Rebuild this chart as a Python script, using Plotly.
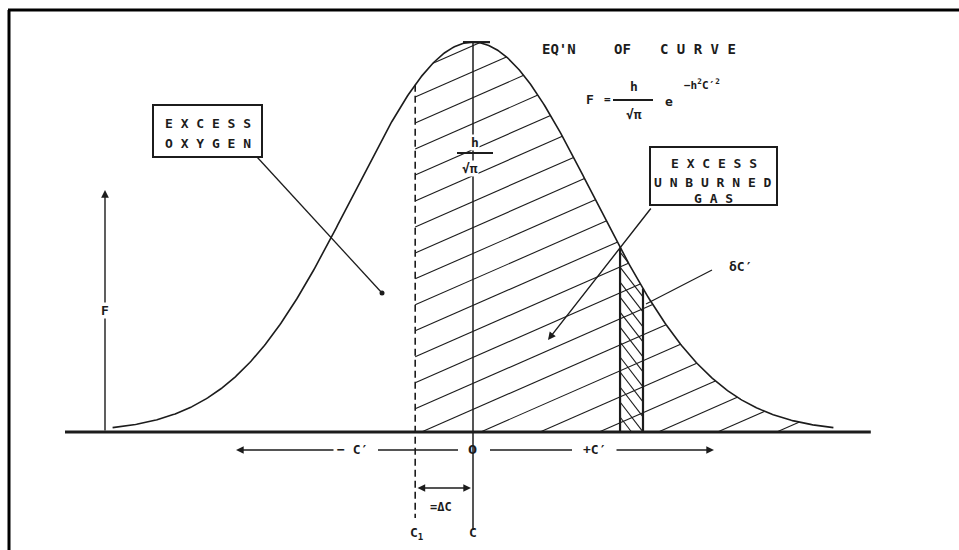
import numpy as np
import plotly.graph_objects as go

# ---- quantities of the error-curve diagram --------------------------------
H = 1.0                      # precision constant h
C1 = -0.34                   # displaced setting C1 = C - ΔC
STRIP = (0.865, 1.0)         # element δC' on the unburned-gas side
CURVE_SPAN = (-2.12, 2.12)   # C' range over which the curve is traced
AXIS_SPAN = (-2.40, 2.34)    # C' range of the base line
HATCH_SLOPE = 0.108          # rise of shading lines (F per unit C')
HATCH_STEP = 0.0376          # spacing of shading lines (F)
CROSS_SLOPE = -0.32          # slope of cross shading inside δC'
CROSS_STEP = 0.0217          # spacing of cross shading inside δC'

# ---- canvas layout --------------------------------------------------------
W, HT = 959, 550
ORIGIN_PX = (473, 432)       # where C'=0, F=0 sits on the canvas
PX_PER_C = 170.0
PX_PER_F = 691.0
INK = "#1c1c1c"
LETTER = "DejaVu Sans Mono"


def at(px, py):
    """Canvas pixel position -> (C', F) data units."""
    return (px - ORIGIN_PX[0]) / PX_PER_C, (ORIGIN_PX[1] - py) / PX_PER_F


def curve(c):
    """F = h/sqrt(pi) * exp(-h^2 C'^2)"""
    return H / np.sqrt(np.pi) * np.exp(-(H * c) ** 2)


def clipped_lines(intercepts, slope, c_ref, c_lo, c_hi):
    """Straight shading lines clipped to the area under the curve."""
    grid = np.linspace(c_lo, c_hi, 4000)
    top = curve(grid)
    xs, ys = [], []
    for b in intercepts:
        line = b + slope * (grid - c_ref)
        idx = np.flatnonzero((line >= 0) & (line <= top))
        if idx.size < 3:
            continue
        for run in np.split(idx, np.flatnonzero(np.diff(idx) > 1) + 1):
            if run.size < 3:
                continue
            xs += [grid[run[0]], grid[run[-1]], None]
            ys += [line[run[0]], line[run[-1]], None]
    return xs, ys


fig = go.Figure()


def line_trace(x, y, width=1.4, dash=None, color=INK):
    fig.add_trace(go.Scatter(x=x, y=y, mode="lines", hoverinfo="skip",
                             line=dict(color=color, width=width, dash=dash)))


# shading of the area beyond C1
hx, hy = clipped_lines(np.arange(0.56, -0.30, -HATCH_STEP), HATCH_SLOPE,
                       C1, C1, 2.05)
line_trace(hx, hy, width=1.1)

# cross shading inside δC'
sx, sy = clipped_lines(np.arange(0.0, 0.34, CROSS_STEP), CROSS_SLOPE,
                       STRIP[0], STRIP[0], STRIP[1])
line_trace(sx, sy, width=1.1)

# sides of δC'
for c in STRIP:
    line_trace([c, c], [0, curve(c)], width=2.2)

# the distribution curve
cc = np.linspace(CURVE_SPAN[0], CURVE_SPAN[1], 600)
line_trace(cc, curve(cc), width=1.6)

# base line (C' axis)
line_trace(list(AXIS_SPAN), [0, 0], width=3)

# C line through the maximum and dashed C1 line
peak = curve(0.0)
line_trace([0, 0], [peak, at(0, 530)[1]], width=1.5)
line_trace([C1, C1], [curve(C1), at(0, 518)[1]], width=1.6, dash="7px,4px")

# cap at the top of the ordinate h/sqrt(pi)
cap_l, cap_r = at(463, 0)[0], at(490, 0)[0]
line_trace([cap_l, cap_r], [peak, peak], width=2.2)

# leader lines
ox0, oy0 = at(257, 157)
ox1, oy1 = at(382, 293)
line_trace([ox0, ox1], [oy0, oy1], width=1.3)
fig.add_trace(go.Scatter(x=[ox1], y=[oy1], mode="markers", hoverinfo="skip",
                         marker=dict(color=INK, size=5)))
dx0, dy0 = at(712, 270)
dx1, dy1 = at(646, 304)
line_trace([dx0, dx1], [dy0, dy1], width=1.2)

# fraction bars
for (l, r, y) in [(613, 653, 100), (457, 493, 153)]:
    a, yy = at(l, y)
    b, _ = at(r, y)
    line_trace([a, b], [yy, yy], width=2.2)

annotations = []


def arrow(tail, head, start=False):
    tx, ty = at(*tail)
    hx_, hy_ = at(*head)
    annotations.append(dict(
        x=hx_, y=hy_, ax=tx, ay=ty, xref="x", yref="y", axref="x", ayref="y",
        text="", showarrow=True, arrowhead=2, arrowsize=1.1, arrowwidth=1.4,
        arrowcolor=INK, arrowside="end+start" if start else "end",
        startarrowhead=2, startarrowsize=1.1))


def label(text, px, py, size=13, bg=None, family=LETTER):
    x, y = at(px, py)
    annotations.append(dict(
        x=x, y=y, xref="x", yref="y", text=text, showarrow=False,
        font=dict(family=family, size=size, color=INK),
        bgcolor=bg, borderpad=0, xanchor="center", yanchor="middle"))


# F ordinate arrow
arrow((105, 432), (105, 190))
# C' direction arrows
arrow((335, 450), (236, 450))
arrow((615, 450), (714, 450))
line_trace([at(378, 0)[0], at(458, 0)[0]], [at(0, 450)[1]] * 2, width=1.3)
line_trace([at(490, 0)[0], at(572, 0)[0]], [at(0, 450)[1]] * 2, width=1.3)
# ΔC dimension
arrow((416, 488), (471, 488), start=True)
# unburned-gas leader
arrow((652, 207), (548, 340))

label("<b>E X C E S S</b>", 208, 123)
label("<b>O X Y G E N</b>", 208, 143)
label("<b>E X C E S S</b>", 714, 163)
label("<b>U N B U R N E D</b>", 713, 182)
label("<b>G A S</b>", 713, 198)

label("<b>EQ'N</b>", 559, 49, size=14)
label("<b>OF</b>", 622, 49, size=14)
label("<b>C U R V E</b>", 698, 49, size=14)

label("<b>F</b>", 590, 99)
label("<b>=</b>", 607, 99, size=11)
label("<b>h</b>", 634, 86)
label("<b>√π</b>", 634, 114)
label("<b>e</b>", 669, 101)
label("<b>−h<sup>2</sup>C′<sup>2</sup></b>", 702, 84, size=11)

label("<b>h</b>", 475, 142, bg="white")
label("<b>√π</b>", 470, 168, bg="white")

label("<b>F</b>", 105, 310, bg="white")
label("<b>− C′</b>", 352, 449)
label("<b>0</b>", 472, 449, family="DejaVu Sans")
label("<b>+C′</b>", 594, 449)
label("<b>=ΔC</b>", 441, 507, size=12, bg="white")
label("<b>C<sub>1</sub></b>", 417, 533)
label("<b>C</b>", 473, 532)
label("<b>δC′</b>", 740, 266)

# label boxes and the outer frame
shapes = []
for (l, t, r, b) in [(153, 105, 262, 157), (650, 147, 777, 205)]:
    x0, y0 = at(l, t)
    x1, y1 = at(r, b)
    shapes.append(dict(type="rect", xref="x", yref="y", x0=x0, y0=y1,
                       x1=x1, y1=y0, line=dict(color=INK, width=2),
                       fillcolor="white", layer="below"))
shapes.append(dict(type="line", xref="paper", yref="paper",
                   x0=8 / W, x1=1.0, y0=1 - 10 / HT, y1=1 - 10 / HT,
                   line=dict(color="black", width=3)))
shapes.append(dict(type="line", xref="paper", yref="paper",
                   x0=9 / W, x1=9 / W, y0=0, y1=1 - 10 / HT,
                   line=dict(color="black", width=3)))

x_lo, y_hi = at(0, 0)
x_hi, y_lo = at(W, HT)
fig.update_layout(
    width=W, height=HT, margin=dict(l=0, r=0, t=0, b=0),
    paper_bgcolor="white", plot_bgcolor="white", showlegend=False,
    xaxis=dict(range=[x_lo, x_hi], visible=False, fixedrange=True),
    yaxis=dict(range=[y_lo, y_hi], visible=False, fixedrange=True),
    annotations=annotations, shapes=shapes,
)

fig.write_html("out.html")
